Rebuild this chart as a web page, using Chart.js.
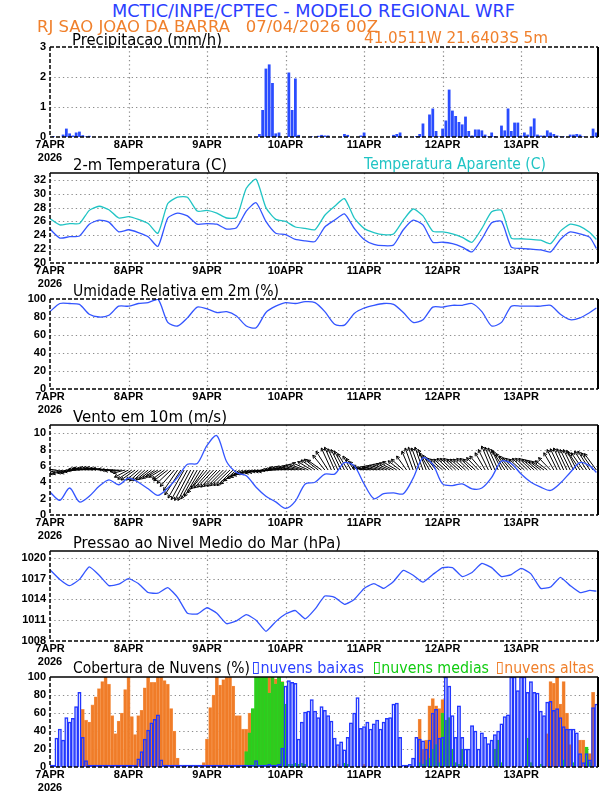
<!DOCTYPE html>
<html><head><meta charset="utf-8">
<script src="https://cdn.jsdelivr.net/npm/chart.js@4"></script>
<style>
html,body{margin:0;padding:0;background:#fff;}
body{width:612px;height:792px;position:relative;overflow:hidden;font-family:"DejaVu Sans",sans-serif;}
canvas{position:absolute;left:0;}
.t{position:absolute;white-space:pre;transform-origin:0 50%;line-height:1;}
.box{display:inline-block;width:0.38em;height:0.78em;border:1.4px solid currentColor;vertical-align:-0.08em;margin-right:2px;box-sizing:border-box;}
</style></head><body>
<script>
// ---------------- DATA ----------------
const dayLabels = ["7APR","8APR","9APR","10APR","11APR","12APR","13APR"];
const yearLabel = "2026";
const dayTickHours = [0,24,48,72,96,120,144];

// hourly precipitation (mm/h), hours 0..167
const precip = [
 0,0.03,0,0,0.08,0.28,0.12,0.05,0.15,0.18,0.06,0.02,0.04,0,0,0,0,0,0,0,0,0,0,0,
 0,0,0,0,0,0,0,0,0,0,0,0,0,0,0,0,0,0,0,0,0,0,0,0,
 0,0,0,0,0,0,0,0,0,0,0,0,0,0,0,0,0.1,0.9,2.28,2.42,1.8,0.12,0.15,0,
 0,2.15,0.9,1.95,0.07,0,0,0,0.02,0,0.04,0.07,0.05,0.05,0,0,0,0,0.1,0.07,0,0,0,0.05,
 0.15,0,0,0,0,0,0,0,0,0.07,0.1,0.15,0,0,0,0,0.03,0.1,0.45,0,0.75,0.95,0.2,0.02,
 0.28,0.55,1.58,0.88,0.7,0.5,0.42,0.68,0.2,0.05,0.25,0.25,0.22,0.08,0.02,0.15,0.03,0,0.38,0.22,0.95,0.2,0.48,0.48,
 0.05,0.15,0.08,0.35,0.62,0.08,0.05,0.05,0.22,0.15,0.1,0.05,0.02,0.02,0,0.08,0.08,0.1,0.08,0.02,0,0,0.28,0.15
];

// 3-hourly line series
const lineHours = [0,3,6,9,12,15,18,21,24,27,30,33,36,39,42,45,48,51,54,57,60,63,66,69,72,75,78,81,84,87,90,93,96,99,102,105,108,111,114,117,120,123,126,129,132,135,138,141,144,147,150,153,156,159,162,165,167];
const temp2m = [24.9,23.6,23.8,23.9,25.6,26.2,25.9,24.5,24.8,24.4,23.8,22.4,26.5,27.2,26.8,25.6,25.7,25.6,24.9,25.1,27.5,28.7,26.0,24.3,24.1,23.4,23.2,23.1,25.2,26.2,27.1,25.0,23.4,22.7,22.5,22.6,24.8,26.2,25.5,23.0,23.0,22.8,22.3,21.6,23.5,25.8,26.0,22.3,22.1,22.0,21.9,21.6,23.4,24.5,24.2,23.7,22.1];
const tempApparent = [26.4,25.5,25.7,25.7,27.6,28.2,27.7,26.5,26.7,26.3,25.7,24.3,28.6,29.5,29.5,27.5,27.6,27.2,26.5,26.6,30.8,32.1,28.0,26.3,26.0,25.2,25.0,24.8,26.9,28.2,29.3,26.5,25.0,24.4,24.1,24.2,26.2,27.8,26.8,24.6,24.5,24.2,23.7,23.0,25.0,27.4,27.6,23.6,23.5,23.4,23.3,22.8,24.6,25.6,25.3,24.4,23.4];
const relHum = [86,95,95,94,83,80,82,92,92,95,96,100,74,70,79,91,89,85,86,81,70,68,85,92,96,95,97,96,86,72,71,84,90,93,95,94,85,74,77,91,91,93,93,95,86,70,74,92,92,92,92,93,83,77,79,85,90];
const windSpeed = [2.8,1.8,3.3,1.6,2.3,3.5,4.3,3.7,4.5,4.0,3.2,2.4,3.3,4.6,6.2,6.3,8.5,9.7,6.5,5.2,4.8,3.4,2.3,1.6,0.8,1.7,3.8,4.0,5.0,5.0,6.4,6.0,3.8,2.0,2.6,2.7,2.6,4.5,7.0,6.2,3.8,3.6,3.8,3.2,3.3,4.6,6.6,6.3,5.0,4.0,3.4,3.0,3.9,5.2,6.4,6.0,5.2];
const pressure = [1018.3,1016.9,1016.0,1016.9,1018.7,1017.5,1016.0,1016.2,1017.0,1016.3,1015.0,1014.9,1015.7,1014.3,1012.0,1011.9,1012.8,1012.0,1010.5,1010.9,1011.8,1011.0,1009.4,1010.8,1011.9,1012.4,1011.2,1012.6,1014.5,1014.3,1013.3,1014.0,1015.6,1016.3,1015.6,1016.6,1018.2,1017.5,1016.5,1017.6,1018.6,1018.6,1017.3,1017.9,1019.2,1018.6,1017.3,1017.6,1018.5,1017.7,1015.6,1015.8,1017.2,1016.0,1015.0,1015.3,1015.2];

// hourly wind vector components (m/s)
const windU = [
 -2.5,-3,-3,-3,-3.5,-3.5,-3,-3,-3,-3,-3.5,-3.5,-4,-4,-4,-4,-4,-4,-4,-3.5,-3.5,-3.5,-3,-3,
 -3.5,-3.5,-3.5,-3,-3,-3,-3,-3,-3,-3,-3,-3,-3.5,-3.5,-3.5,-3.5,-4,-4,-4,-4,-4,-4,-4,-4,
 -4,-4,-4,-4,-4,-4,-4,-4,-4,-4,-4,-4,-4,-4,-4,-4,-3.5,-3.5,-3.5,-3.5,-3.5,-3.5,-3.5,-3.5,
 -4,-4,-4,-4,-4,-4,-4,-4,-3.5,-3.5,-3.5,-3.5,-3,-3,-2.5,-2.5,-2.5,-2.5,-2.5,-2.5,-2,-2,-2,-2,
 -3,-3,-3,-3,-3.5,-3.5,-3.5,-3.5,-3.5,-3.5,-3.5,-3,-3,-2.5,-2,-2,-2,-2,-2,-2,-2.5,-2.5,-2.5,-3,
 -3,-3,-3,-3,-3,-3,-3,-3,-3,-3,-3,-3,-3,-2.5,-2.5,-2.5,-2.5,-2.5,-2.5,-3,-3,-3,-3,-3,
 -3,-3,-3,-3,-3,-3,-3,-3,-3,-3,-2.5,-2.5,-2.5,-2.5,-2.5,-2.5,-2.5,-2.5,-3,-3,-3,-3,-3,-3
];
const windV = [
 0.8,0.6,0.2,-0.6,-1.0,-1.0,-0.8,-0.8,-0.4,0,0.2,0.4,0.4,0.4,0.6,0.6,0.6,0.4,0.4,0.2,0,-0.2,-0.4,-0.8,
 -1.8,-2.3,-2.5,-2.5,-2.7,-2.7,-2.5,-2.3,-2.1,-1.8,-1.8,-2.3,-2.7,-3.3,-4.1,-5.1,-6.2,-7.0,-7.4,-7.6,-7.6,-7.2,-6.6,-5.7,
 -4.7,-4.5,-4.3,-4.3,-4.1,-4.1,-3.9,-3.9,-3.9,-3.5,-2.7,-2.1,-1.8,-1.4,-1.0,-1.0,-0.8,-0.6,-0.4,-0.4,-0.4,0,0.2,0.4,
 0.6,0.6,0.8,0.8,1.0,1.2,1.4,1.8,2.1,2.5,2.7,2.5,3.7,4.7,5.5,5.7,5.3,5.1,4.7,4.1,3.5,2.9,2.1,1.2,
 0.6,0.6,0.6,0.8,0.8,1.0,1.2,1.4,1.6,1.8,2.1,2.3,2.7,3.5,4.7,5.5,5.7,5.5,5.7,5.1,4.3,3.7,3.1,2.9,
 2.7,2.7,2.9,2.9,2.9,2.7,2.7,2.7,2.9,2.9,2.7,3.1,3.5,4.3,5.1,6.0,5.7,5.5,5.1,4.7,4.1,3.5,3.1,2.9,
 2.7,2.9,2.9,2.9,2.7,2.5,2.3,2.1,2.3,3.1,4.3,5.1,5.3,5.5,5.3,5.1,5.1,4.9,4.5,4.3,4.7,4.7,4.3,4.1
];

// hourly cloud cover (%)
const cloudLow = [
 0,0,32,42,30,55,50,54,67,83,33,7,0,0,0,0,0,0,0,0,0,0,0,0,
 0,0,2,9,17,31,41,49,53,58,8,0,0,0,0,0,0,0,0,0,0,0,0,0,
 0,0,0,0,0,0,0,0,0,0,0,0,0,0,0,7,0,0,0,3,0,0,3,21,
 90,96,94,93,31,50,61,62,75,62,55,67,63,57,51,32,25,28,19,33,49,60,77,43,
 45,50,42,48,52,42,50,54,55,70,71,33,0,0,3,10,33,31,29,20,30,60,64,32,
 33,100,90,57,33,68,33,20,20,46,40,20,38,33,26,30,36,40,48,56,58,100,100,85,
 100,100,83,95,83,82,62,57,72,73,63,65,55,45,42,42,42,38,15,5,15,8,66,70
];
const cloudMid = [
 0,0,0,0,0,0,0,0,0,0,0,0,0,0,0,0,0,0,0,0,0,0,0,0,
 0,0,0,0,0,0,0,0,0,0,0,0,0,0,0,0,0,0,0,0,0,0,0,0,
 0,0,0,0,0,0,0,0,0,0,0,0,17,38,65,100,100,100,100,82,100,92,100,94,
 70,3,3,4,3,4,3,0,0,0,0,0,0,0,0,0,0,0,4,3,0,0,0,0,
 0,0,0,0,0,0,0,0,0,0,0,0,0,0,0,0,0,5,3,8,10,20,25,5,
 60,52,55,20,5,3,20,3,0,0,0,0,0,0,0,0,20,30,5,0,0,0,0,0,
 0,0,32,5,0,0,3,0,0,0,0,0,0,8,0,0,5,0,0,0,22,5,0,0
];
const cloudHigh = [
 0,0,0,0,0,0,0,0,0,0,64,52,50,69,78,87,95,100,92,57,37,51,60,86,
 100,56,36,57,63,88,100,94,94,100,100,96,92,65,40,10,0,0,0,0,0,0,0,5,
 31,66,80,100,91,97,100,100,90,57,57,42,42,60,62,65,100,95,100,100,100,98,100,95,
 20,0,0,0,0,0,0,0,0,0,0,0,0,0,0,0,3,0,0,0,0,0,0,0,
 3,0,0,0,0,0,0,0,0,0,0,0,0,0,0,0,0,53,20,30,68,76,68,65,
 75,33,10,5,0,0,0,0,0,0,0,0,0,0,0,0,0,0,0,0,0,0,0,0,
 0,0,0,0,0,0,0,0,37,95,93,100,70,95,60,25,0,0,30,30,18,15,83,0
];

// ---------------- STYLE / LAYOUT ----------------
const BLUE = '#2b40ff', LINEBLUE = '#3355ff', ORANGE = '#f0802c', CYAN = '#20c4c4', GREEN = '#10cc10';
const PX_LEFT = 50, PX_RIGHT = 598, PLOT_H = 90, PAD_TOP = 12, XAXIS_H = 34, X_MAX = 167.5;
const panelTops = [47, 173, 299, 425, 551, 677];
const ARROW_BASE = 5.5, ARROW_SCALE = 4;

Chart.defaults.font.family = 'Liberation Sans';

const dottedGrid = {
  id: 'dottedGrid',
  beforeDatasetsDraw(chart) {
    const {ctx, scales: {x, y}, chartArea: a} = chart;
    ctx.save();
    ctx.strokeStyle = '#8c8c8c'; ctx.lineWidth = 1.2; ctx.setLineDash([1.3, 3]);
    x.ticks.forEach(t => {
      const px = Math.round(x.getPixelForValue(t.value)) + 0.5;
      if (px <= a.left + 1 || px >= a.right - 1) return;
      ctx.beginPath(); ctx.moveTo(px, a.top); ctx.lineTo(px, a.bottom); ctx.stroke();
    });
    y.ticks.forEach(t => {
      const py = Math.round(y.getPixelForValue(t.value)) + 0.5;
      if (py <= a.top + 1 || py >= a.bottom - 1) return;
      ctx.beginPath(); ctx.moveTo(a.left, py); ctx.lineTo(a.right, py); ctx.stroke();
    });
    ctx.restore();
  }
};

const frame = {
  id: 'frame',
  afterDraw(chart, args, opts) {
    const {ctx, chartArea: a} = chart;
    ctx.save();
    ctx.strokeStyle = '#000';
    const seg = (x0, y0, x1, y1, dash, w) => {
      ctx.lineWidth = w; ctx.setLineDash(dash);
      ctx.beginPath(); ctx.moveTo(x0, y0); ctx.lineTo(x1, y1); ctx.stroke();
    };
    seg(a.left, a.top, a.right, a.top, opts.topDash ? [4, 2] : [], 1.5);
    seg(a.right, a.top, a.right, a.bottom, [], 2);
    seg(a.left, a.bottom, a.right, a.bottom, [4, 2], 1.5);
    seg(a.left, a.top, a.left, a.bottom, [4, 2], 1.5);
    ctx.restore();
  }
};

const windArrows = {
  id: 'windArrows',
  beforeDatasetsDraw(chart) {
    const {ctx, scales: {x, y}, chartArea: a} = chart;
    ctx.save();
    ctx.beginPath(); ctx.rect(a.left, a.top, a.right - a.left, a.bottom - a.top); ctx.clip();
    ctx.strokeStyle = '#000'; ctx.lineWidth = 1;
    windU.forEach((u, i) => {
      const v = windV[i];
      const x0 = x.getPixelForValue(i), y0 = y.getPixelForValue(ARROW_BASE);
      const x1 = x0 + u * ARROW_SCALE, y1 = y0 - v * ARROW_SCALE;
      const ang = Math.atan2(y1 - y0, x1 - x0), hl = 3.5;
      ctx.beginPath();
      ctx.moveTo(x0, y0); ctx.lineTo(x1, y1);
      ctx.moveTo(x1, y1); ctx.lineTo(x1 - hl * Math.cos(ang - 0.5), y1 - hl * Math.sin(ang - 0.5));
      ctx.moveTo(x1, y1); ctx.lineTo(x1 - hl * Math.cos(ang + 0.5), y1 - hl * Math.sin(ang + 0.5));
      ctx.stroke();
    });
    ctx.restore();
  }
};

function makeCanvas(i) {
  const c = document.createElement('canvas');
  const h = PAD_TOP + PLOT_H + XAXIS_H;
  c.width = 612; c.height = h;
  c.style.top = (panelTops[i] - PAD_TOP) + 'px';
  c.style.width = '612px'; c.style.height = h + 'px';
  document.body.appendChild(c);
  return c;
}

function options(yMin, yMax, yTicks, topDash) {
  const tickFont = {family: 'Liberation Sans', weight: 'bold', size: 11};
  return {
    responsive: false, animation: false,
    layout: {padding: {top: PAD_TOP, right: 612 - PX_RIGHT, left: 0, bottom: 0}},
    plugins: {legend: {display: false}, tooltip: {enabled: false}, frame: {topDash}},
    scales: {
      x: {
        type: 'linear', min: 0, max: X_MAX, offset: false,
        afterBuildTicks(s) { s.ticks = dayTickHours.map(v => ({value: v})); },
        afterFit(s) { s.height = XAXIS_H; },
        ticks: {
          callback: (v, i) => i === 0 ? [dayLabels[0], yearLabel] : dayLabels[i],
          font: tickFont, color: '#000', padding: 1, maxRotation: 0, autoSkip: false
        },
        grid: {display: false, drawTicks: false, offset: false},
        border: {display: false}
      },
      y: {
        min: yMin, max: yMax,
        afterBuildTicks(s) { s.ticks = yTicks.map(v => ({value: v})); },
        afterFit(s) { s.width = PX_LEFT; },
        ticks: {font: tickFont, color: '#000', padding: 4, autoSkip: false, callback: v => String(v)},
        grid: {display: false, drawTicks: false},
        border: {display: false}
      }
    }
  };
}

const hourly = arr => arr.map((v, i) => ({x: i, y: v}));
const lined = arr => lineHours.map((h, i) => ({x: h, y: arr[i]}));
const lineDs = (arr, color, tension) => ({type: 'line', data: lined(arr), borderColor: color, borderWidth: 1.3,
  pointRadius: 0, tension: tension, fill: false});

// Panel 1: precipitation
new Chart(makeCanvas(0), {
  type: 'bar',
  data: {datasets: [{data: hourly(precip), backgroundColor: '#2a4cff', borderWidth: 0,
    barPercentage: 0.85, categoryPercentage: 1}]},
  options: options(0, 3, [0, 1, 2, 3], true),
  plugins: [dottedGrid, frame]
});

// Panel 2: temperature
new Chart(makeCanvas(1), {
  type: 'line',
  data: {datasets: [lineDs(temp2m, LINEBLUE, 0.2), lineDs(tempApparent, CYAN, 0.2)]},
  options: options(20, 33, [20, 22, 24, 26, 28, 30, 32], false),
  plugins: [dottedGrid, frame]
});

// Panel 3: relative humidity
new Chart(makeCanvas(2), {
  type: 'line',
  data: {datasets: [lineDs(relHum, LINEBLUE, 0.25)]},
  options: options(0, 100, [0, 20, 40, 60, 80, 100], true),
  plugins: [dottedGrid, frame]
});

// Panel 4: wind
new Chart(makeCanvas(3), {
  type: 'line',
  data: {datasets: [lineDs(windSpeed, LINEBLUE, 0.3)]},
  options: options(0, 11, [0, 2, 4, 6, 8, 10], false),
  plugins: [dottedGrid, windArrows, frame]
});

// Panel 5: pressure
new Chart(makeCanvas(4), {
  type: 'line',
  data: {datasets: [lineDs(pressure, LINEBLUE, 0.15)]},
  options: options(1008, 1021, [1008, 1011, 1014, 1017, 1020], false),
  plugins: [dottedGrid, frame]
});

// Panel 6: clouds (index 0 drawn on top)
new Chart(makeCanvas(5), {
  type: 'bar',
  data: {datasets: [
    {label: 'nuvens baixas', data: hourly(cloudLow), backgroundColor: 'rgba(0,0,0,0)', borderColor: '#2236ff',
      borderWidth: 0.8, barPercentage: 1, categoryPercentage: 1, grouped: false, minBarLength: 2},
    {label: 'nuvens medias', data: hourly(cloudMid), backgroundColor: 'rgb(50,200,30)', borderColor: 'rgb(30,220,30)',
      borderWidth: 0.6, barPercentage: 1, categoryPercentage: 1, grouped: false},
    {label: 'nuvens altas', data: hourly(cloudHigh), backgroundColor: 'rgb(240,124,40)', borderColor: 'rgb(246,158,92)',
      borderWidth: 0.6, barPercentage: 1, categoryPercentage: 1, grouped: false},
    {label: 'baixas fill', data: hourly(cloudLow), backgroundColor: 'rgb(226,230,255)', borderWidth: 0,
      barPercentage: 1, categoryPercentage: 1, grouped: false}
  ]},
  options: options(0, 100, [0, 20, 40, 60, 80, 100], false),
  plugins: [dottedGrid, frame]
});

// ---------------- TEXTS ----------------
const box = '<span class="box"></span>';
const texts = [
  {h: 'MCTIC/INPE/CPTEC - MODELO REGIONAL WRF', x0: 112, x1: 515, y: 11, s: 18, c: BLUE},
  {h: 'RJ SAO JOAO DA BARRA   07/04/2026 00Z', x0: 37, x1: 378, y: 27, s: 16, c: ORANGE},
  {h: 'Precipitacao (mm/h)', x0: 72, x1: 222, y: 40, s: 15, c: '#000'},
  {h: '41.0511W 21.6403S 5m', x0: 364, x1: 548, y: 38, s: 15, c: ORANGE},
  {h: '2-m Temperatura (C)', x0: 73, x1: 227, y: 165, s: 15, c: '#000'},
  {h: 'Temperatura Aparente (C)', x0: 364, x1: 546, y: 164, s: 15, c: CYAN},
  {h: 'Umidade Relativa em 2m (%)', x0: 73, x1: 279, y: 291, s: 15, c: '#000'},
  {h: 'Vento em 10m (m/s)', x0: 73, x1: 227, y: 417, s: 15, c: '#000'},
  {h: 'Pressao ao Nivel Medio do Mar (hPa)', x0: 73, x1: 341, y: 543, s: 15, c: '#000'},
  {h: 'Cobertura de Nuvens (%)', x0: 73, x1: 250, y: 668, s: 15, c: '#000'},
  {h: box + 'nuvens baixas', x0: 253, x1: 364, y: 668, s: 15, c: BLUE},
  {h: box + 'nuvens medias', x0: 374, x1: 489, y: 668, s: 15, c: GREEN},
  {h: box + 'nuvens altas', x0: 497, x1: 594, y: 668, s: 15, c: ORANGE}
];
texts.forEach(t => {
  const d = document.createElement('div');
  d.className = 't';
  d.innerHTML = t.h;
  d.style.left = t.x0 + 'px';
  d.style.top = (t.y - t.s / 2) + 'px';
  d.style.fontSize = t.s + 'px';
  d.style.height = t.s + 'px';
  d.style.color = t.c;
  document.body.appendChild(d);
  const w = d.getBoundingClientRect().width;
  d.style.transform = 'scaleX(' + ((t.x1 - t.x0) / w) + ')';
});
</script>
</body></html>
